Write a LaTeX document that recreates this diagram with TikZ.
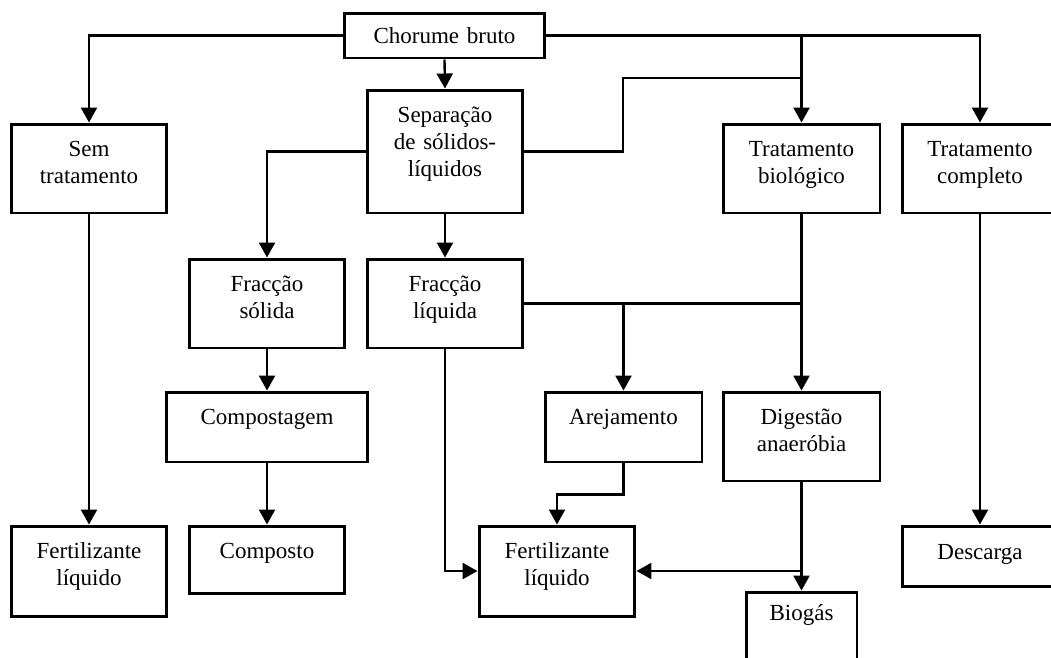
\documentclass[tikz,border=0pt]{standalone}
\usepackage{fontspec}
\setmainfont{Liberation Serif}
\usepackage{tikz}
\usetikzlibrary{arrows.meta, calc}

\begin{document}
\begin{tikzpicture}[
    x=0.02cm, y=-0.02cm,
    every node/.style={font=\fontsize{13.1pt}{15.4pt}\selectfont},
    box/.style={draw, line width=1.7pt, inner sep=0pt, align=center, text width=3.12cm, text height=0.64cm, text depth=1.14cm},
    ln/.style={line width=1.35pt},
    arr/.style={ln, -{Triangle[length=0.3cm, width=0.32cm]}},
]
\useasboundingbox (0,0) rectangle (1051,657);
% top row
\node[box, text width=4.02cm, text height=0.6cm, text depth=0.3cm] (chor) at (444.5,35.5) {Chorume bruto};
\node[box] (semt) at (89,168.5) {Sem\\tratamento};
\node[box, text depth=1.82cm] (sep) at (445,151.5) {Separação\\de sólidos-\\líquidos};
\node[box, text width=3.14cm] (tbio) at (801.5,168.5) {Tratamento\\biológico};
\node[box] (tcomp) at (980,168.5) {Tratamento\\completo};
% fractions
\node[box] (fsol) at (267,303.5) {Fracção\\sólida};
\node[box] (fliq) at (445,303.5) {Fracção\\líquida};
% processes
\node[box, text width=4.04cm, text depth=0.76cm] (comp) at (267,427) {Compostagem};
\node[box, text width=3.14cm, text depth=0.76cm] (arej) at (623.5,427) {Arejamento};
\node[box, text width=3.14cm] (dig) at (801.5,436.5) {Digestão\\anaeróbia};
% products
\node[box, text depth=1.16cm] (fert1) at (89,571) {Fertilizante\\líquido};
\node[box, text depth=0.7cm] (compo) at (267,559.5) {Composto};
\node[box, text depth=1.16cm] (fert2) at (557,571) {Fertilizante\\líquido};
\node[box, text width=2.22cm, text height=0.56cm, text depth=0.78cm] (bio) at (801.5,625.5) {Biogás};
\node[box, text height=0.66cm, text depth=0.54cm] (desc) at (980,556) {Descarga};
\coordinate (j1) at (623,78);
% connectors
\draw[arr] (chor.west) -| (semt.north);
\draw[arr] (chor.south) -- (sep.north);
\draw[arr] (chor.east) -| (tcomp.north);
\draw[arr] (chor.east -| tbio.north) -- (tbio.north);
\draw[ln] (sep.east) -| (j1) -- (j1 -| tbio.north);
\draw[arr] (sep.west) -| (fsol.north);
\draw[arr] (sep.south) -- (fliq.north);
\draw[arr] (semt.south) -- (fert1.north);
\draw[arr] (fsol.south) -- (comp.north);
\draw[arr] (comp.south) -- (compo.north);
\draw[arr] (tbio.south) -- (dig.north);
\draw[ln] (fliq.east) -- (fliq.east -| tbio.south);
\draw[arr] (fliq.east -| arej.north) -- (arej.north);
\draw[arr] (fliq.south) |- (fert2.west);
\draw[arr] (arej.south) -- ++(0,31) -| (fert2.north);
\draw[arr] (dig.south) -- (bio.north);
\draw[arr] (dig.south |- fert2.east) -- (fert2.east);
\draw[arr] (tcomp.south) -- (desc.north);
\end{tikzpicture}
\end{document}
